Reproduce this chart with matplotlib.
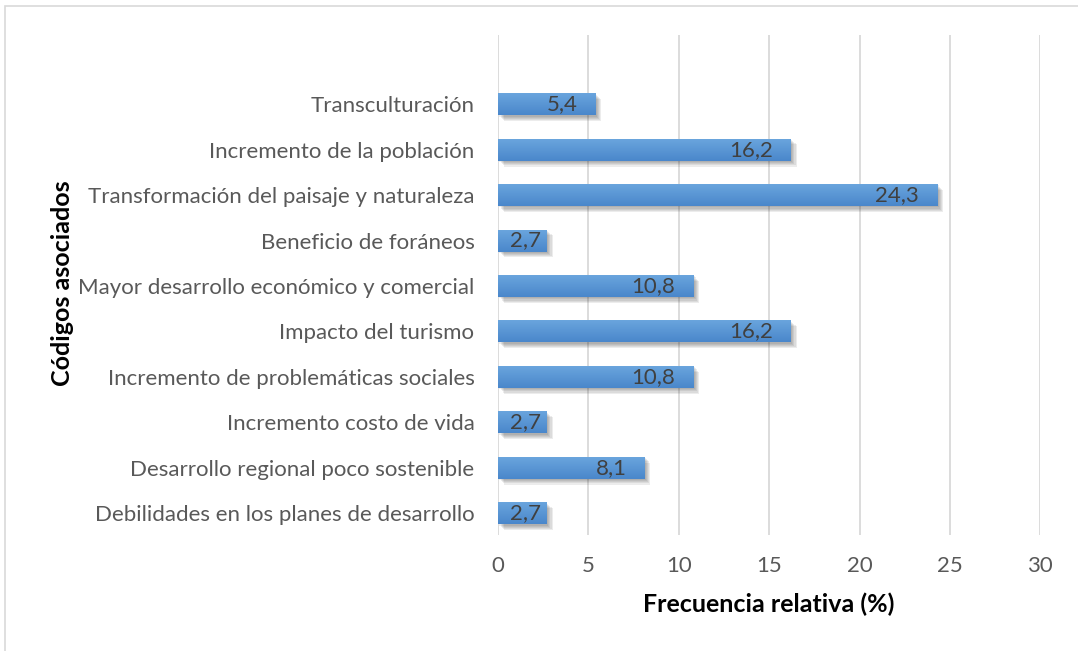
import matplotlib.pyplot as plt
import matplotlib.patheffects as PathEffects
from matplotlib.colors import LinearSegmentedColormap
from matplotlib.patches import Rectangle
import numpy as np

plt.rcParams['font.family'] = ['Lato', 'DejaVu Sans']

codigos = ["Debilidades en los planes de desarrollo",
           "Desarrollo regional poco sostenible",
           "Incremento costo de vida",
           "Incremento de problemáticas sociales",
           "Impacto del turismo",
           "Mayor desarrollo económico y comercial",
           "Beneficio de foráneos",
           "Transformación del paisaje y naturaleza",
           "Incremento de la población",
           "Transculturación"]
frecuencia = [2.7, 8.1, 2.7, 10.8, 16.2, 10.8, 2.7, 24.3, 16.2, 5.4]
xticks = [0, 5, 10, 15, 20, 25, 30]

fig = plt.figure(figsize=(10.78, 6.51), dpi=100)
ax = fig.add_axes([0.462, 0.178, 0.503, 0.768])

# borde del gráfico
fig.patches.append(Rectangle((5 / 1078, -0.01), 1.2, 1 - 6 / 651 + 0.01,
                             transform=fig.transFigure, fill=False,
                             edgecolor='#D9D9D9', lw=1.2))

y = np.arange(len(codigos))
h = 0.485
grad = LinearSegmentedColormap.from_list('g', ['#4A87CB', '#6BA6DE'])

# sombra difusa: varias capas desplazadas con poca opacidad
sombra = [PathEffects.SimplePatchShadow(offset=(d, -d), alpha=0.09,
                                        shadow_rgbFace='#303030')
          for d in (1.0, 1.8, 2.6, 3.4, 4.2)]
bars = ax.barh(y, frecuencia, height=h, color='#5B9BD5', zorder=3,
               path_effects=sombra + [PathEffects.Normal()])
for b, v, yy in zip(bars, frecuencia, y):
    im = ax.imshow(np.linspace(0, 1, 50).reshape(-1, 1), cmap=grad,
                   extent=[0, v, yy - h / 2, yy + h / 2], origin='lower',
                   aspect='auto', zorder=4)
    im.set_clip_path(b)
    pad = -4 if v < 3 else -13
    ax.annotate(f"{v:.1f}".replace('.', ','), (v, yy), xytext=(pad, 0),
                textcoords='offset points', ha='right', va='center',
                fontsize=16, color='#404040', zorder=5)

ax.set_xlim(0, 30)
ax.set_ylim(-0.484, 10.52)
ax.set_xticks(xticks)
ax.set_yticks(y)
ax.set_yticklabels(codigos)
ax.tick_params(axis='both', length=0, labelsize=16, labelcolor='#595959')
ax.tick_params(axis='y', pad=17)
ax.tick_params(axis='x', pad=15)
ax.grid(axis='x', color='#D9D9D9', lw=1.3, zorder=0)
for s in ax.spines.values():
    s.set_visible(False)

ax.set_xlabel('Frecuencia relativa (%)', fontsize=18, fontweight='bold',
              labelpad=12)
fig.text(62 / 1078, 1 - 283 / 651, 'Códigos asociados', rotation=90,
         ha='center', va='center', fontsize=18, fontweight='bold')

fig.savefig('out.png', dpi=100)
